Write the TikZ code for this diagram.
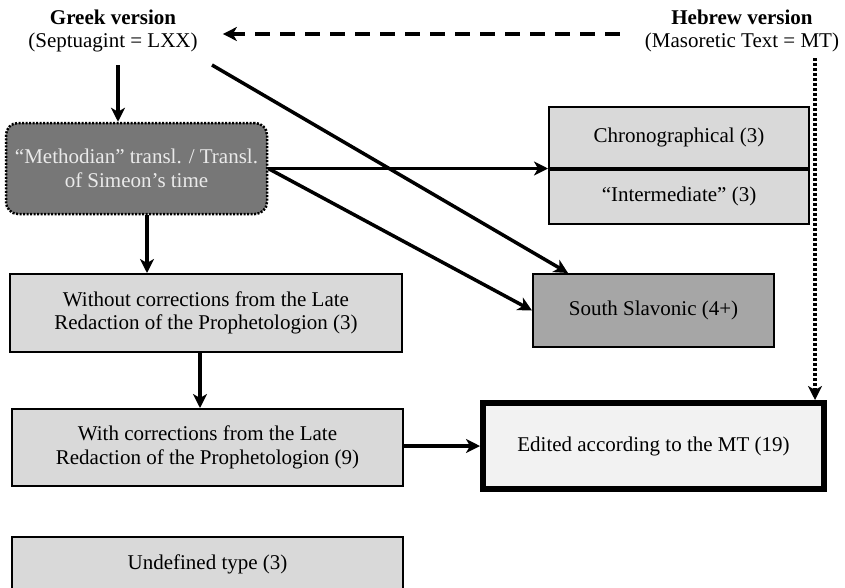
\documentclass[tikz,border=0pt]{standalone}
\usepackage{fontspec}
\setmainfont{Liberation Serif}
\usetikzlibrary{arrows.meta}
\definecolor{lightbox}{HTML}{D9D9D9}
\definecolor{midbox}{HTML}{A6A6A6}
\definecolor{darkbox}{HTML}{777777}
\definecolor{palebox}{HTML}{F2F2F2}
\definecolor{darktext}{HTML}{EAEAEA}
\begin{document}
\begin{tikzpicture}[x=1pt,y=-1pt,
  every node/.style={font=\fontsize{21}{23.5}\selectfont, inner sep=0pt},
  box/.style={draw=black, line width=2pt, fill=lightbox, align=center},
  arr/.style={line width=3.5pt, -{Stealth[length=14pt,width=14pt,inset=4pt]}},
  dasharr/.style={line width=3.5pt, dash pattern=on 15pt off 10pt, -{Stealth[length=14pt,width=14pt,inset=4pt]}},
  dotarr/.style={line width=3.5pt, dash pattern=on 3pt off 2pt, -{Stealth[length=14pt,width=14pt,inset=4pt]}},
]
\useasboundingbox (0,0) rectangle (845,587);

% headings
\node[align=center] (greek) at (113,31) {\textbf{Greek version}\\(Septuagint = LXX)};
\node[align=center] (hebrew) at (742,31) {\textbf{Hebrew version}\\(Masoretic Text = MT)};

% boxes
\node[box, draw=black, fill=darkbox, text=darktext, rounded corners=12pt,
      line width=2.5pt, dash pattern=on 2pt off 1.5pt,
      minimum width=261pt, minimum height=91pt] (dark) at (136.5,168.5)
      {“Methodian” transl. / Transl.\\of Simeon’s time};

\node[box, minimum width=260pt, minimum height=61pt] (chrono) at (679,137) {Chronographical (3)};
\node[box, minimum width=260pt, minimum height=54pt, anchor=north] (inter) at (chrono.south) {“Intermediate” (3)};

\node[box, minimum width=392pt, minimum height=78pt] (without) at (206,313)
      {Without corrections from the Late\\Redaction of the Prophetologion (3)};
\node[box, minimum width=391pt, minimum height=77pt] (with) at (207.5,447.5)
      {With corrections from the Late\\Redaction of the Prophetologion (9)};
\node[box, minimum width=391pt, minimum height=54pt] (undef) at (207.5,564)
      {Undefined type (3)};

\node[box, fill=midbox, minimum width=241pt, minimum height=73pt] (slav) at (653.5,310.5)
      {South Slavonic (4+)};

\node[box, fill=palebox, line width=6pt, minimum width=341pt, minimum height=86pt] (edited) at (653.5,446)
      {Edited according to the MT (19)};

% connector start points
\coordinate (g1) at (118,65);
\coordinate (g2) at (212,65);
\coordinate (h1) at (815,58);

% connectors
\draw[dasharr] ([yshift=-3pt,xshift=-25pt]hebrew.west) -- ([yshift=-3pt,xshift=25pt]greek.east);
\draw[arr] (g1) -- (g1 |- dark.north);
\draw[arr] (g2) -- ([xshift=36pt]slav.north west);
\draw[arr] (dark.east) -- (dark.east -| chrono.south west);
\draw[arr] (dark.east) -- (slav.west);
\draw[arr] ([xshift=10.5pt]dark.south) -- ([xshift=10.5pt]dark.south |- without.north);
\draw[arr] ([xshift=-6pt]without.south) -- ([xshift=-6pt]without.south |- with.north);
\draw[arr] (with.east |- edited.west) -- (edited.west);
\draw[dotarr] (h1) -- (h1 |- edited.north);
\end{tikzpicture}
\end{document}
